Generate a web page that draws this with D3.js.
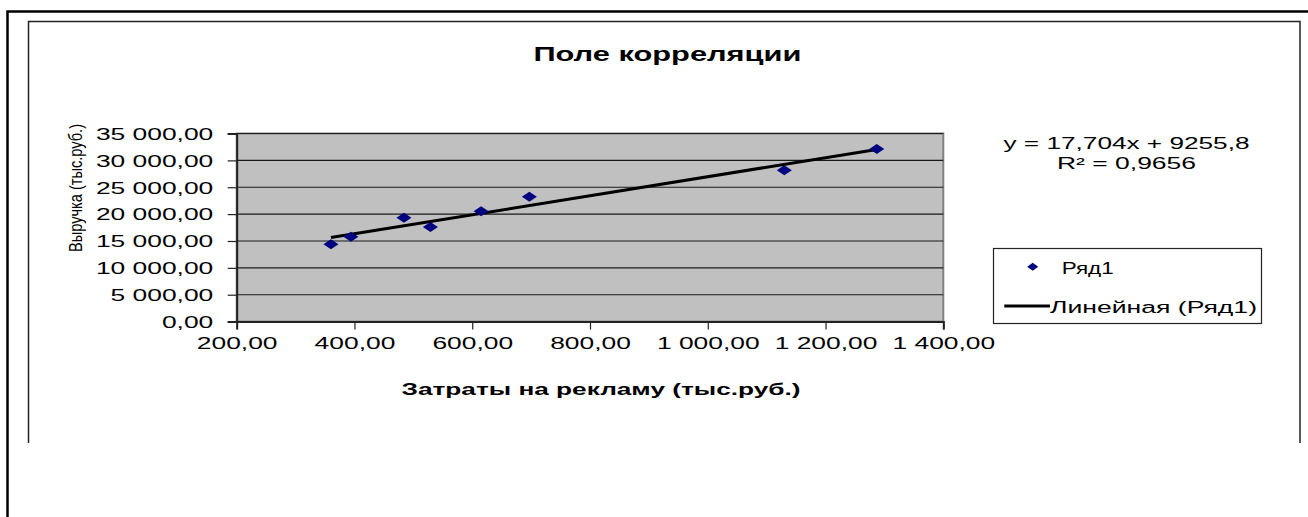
<!DOCTYPE html>
<html><head><meta charset="utf-8">
<script src="https://cdn.jsdelivr.net/npm/d3@7"></script>
<style>html,body{margin:0;padding:0;background:#fff;overflow:hidden}svg{display:block}</style>
</head><body>
<svg id="chart" width="1308" height="517"></svg>
<script>
// ---- data ----
const adSpend = [360, 394, 484, 529, 615, 697, 1130, 1287];
const revenue = [14383, 15797, 19333, 17602, 20524, 23240, 28152, 32116];
const xTicks = [200, 400, 600, 800, 1000, 1200, 1400];
const yTicks = [0, 5000, 10000, 15000, 20000, 25000, 30000, 35000];
const trendSlope = 17.704;
const trendIntercept = 9255.8;
const titleText = "Поле корреляции";
const xTitleText = "Затраты на рекламу (тыс.руб.)";
const yTitleText = "Выручка (тыс.руб.)";
const equationLines = ["y = 17,704x + 9255,8", "R² = 0,9656"];
const seriesName = "Ряд1";
const trendName = "Линейная (Ряд1)";

const FONT = "'Liberation Sans', Arial, sans-serif";
const locale = d3.formatLocale({decimal: ",", thousands: " ", grouping: [3], currency: ["", ""]});
const fmt = locale.format(",.2f");

const svg = d3.select("#chart").style("font-family", FONT);

// frames
svg.append("path").attr("d", "M7.5,517 V11.5 H1308").attr("fill", "none")
  .attr("stroke", "#000").attr("stroke-width", 2.5);
svg.append("path").attr("d", "M28.5,443 V21.5 H1300 V443").attr("fill", "none")
  .attr("stroke", "#222").attr("stroke-width", 1.5);

// scales
const x = d3.scaleLinear().domain([200, 1400]).range([236.7, 943.3]);
const y = d3.scaleLinear().domain([0, 35000]).range([321.6, 133.5]);

// plot area
svg.append("rect")
  .attr("x", x(200)).attr("y", y(35000))
  .attr("width", x(1400) - x(200)).attr("height", y(0) - y(35000))
  .attr("fill", "#C0C0C0").attr("stroke", "#808080").attr("stroke-width", 2);

// gridlines
svg.append("g").selectAll("line").data(yTicks.filter(d => d > 0)).join("line")
  .attr("x1", x(200)).attr("x2", x(1400))
  .attr("y1", d => y(d)).attr("y2", d => y(d))
  .attr("stroke", "#1a1a1a").attr("stroke-width", 1.2);

// y axis
const SX = 1.65;
const gy = svg.append("g").attr("transform", `translate(${x(200)},0)`)
  .call(d3.axisLeft(y).tickValues(yTicks).tickSize(9).tickFormat(fmt));
gy.select(".domain").attr("stroke", "#222").attr("stroke-width", 2);
gy.selectAll(".tick line").attr("stroke", "#222").attr("stroke-width", 1.2);
gy.selectAll(".tick text")
  .attr("x", -23.4 / SX).attr("dy", "0.36em")
  .attr("transform", `scale(${SX},1)`)
  .attr("font-size", 16).attr("font-family", FONT).attr("fill", "#000");

// x axis
const gx = svg.append("g").attr("transform", `translate(0,${y(0)})`)
  .call(d3.axisBottom(x).tickValues(xTicks).tickSize(8).tickFormat(fmt));
gx.select(".domain").attr("stroke", "#222").attr("stroke-width", 2);
gx.selectAll(".tick line").attr("stroke", "#222").attr("stroke-width", 1.2);
gx.selectAll(".tick text")
  .attr("y", 27.7).attr("dy", 0)
  .attr("transform", `scale(${SX},1)`)
  .attr("font-size", 16).attr("font-family", FONT).attr("fill", "#000");

// trend line
const xMin = d3.min(adSpend), xMax = d3.max(adSpend);
const line = d3.line().x(d => x(d)).y(d => y(trendSlope * d + trendIntercept));
svg.append("path").datum([xMin, xMax]).attr("d", line)
  .attr("fill", "none").attr("stroke", "#000").attr("stroke-width", 3);

// points
const diamond = (w, h) => `M0,${-h} L${w},0 L0,${h} L${-w},0 Z`;
svg.append("g").selectAll("path").data(adSpend.map((d, i) => [d, revenue[i]])).join("path")
  .attr("d", diamond(7.5, 5))
  .attr("transform", d => `translate(${x(d[0])},${y(d[1])})`)
  .attr("fill", "#000080");

// texts
function txt(str, xx, yy, size, len, opts = {}) {
  return svg.append("text").text(str)
    .attr("x", xx).attr("y", yy)
    .attr("font-size", size).attr("font-weight", opts.bold ? "bold" : "normal")
    .attr("text-anchor", opts.anchor || "start")
    .attr("textLength", len).attr("lengthAdjust", "spacingAndGlyphs")
    .attr("fill", "#000");
}
txt(titleText, 667.4, 61, 21, 268, {bold: true, anchor: "middle"});
txt(xTitleText, 401.5, 395, 16, 399, {bold: true});

svg.append("text").text(yTitleText)
  .attr("transform", "translate(75.5,188) scale(1.45,1) rotate(-90)")
  .attr("text-anchor", "middle").attr("dy", "0.35em")
  .attr("font-size", 13).attr("textLength", 128).attr("lengthAdjust", "spacingAndGlyphs")
  .attr("fill", "#000");

txt(equationLines[0], 1126.5, 149.3, 16, 246, {anchor: "middle"});
txt(equationLines[1], 1126.5, 169.3, 16, 139, {anchor: "middle"});

// legend
svg.append("rect").attr("x", 993.5).attr("y", 248.5).attr("width", 268).attr("height", 75)
  .attr("fill", "#fff").attr("stroke", "#222").attr("stroke-width", 1.2);
svg.append("path").attr("d", diamond(5.5, 4)).attr("transform", "translate(1032.7,266.7)").attr("fill", "#000080");
txt(seriesName, 1061.7, 274, 16, 52);
svg.append("line").attr("x1", 1004.3).attr("x2", 1050).attr("y1", 306).attr("y2", 306)
  .attr("stroke", "#000").attr("stroke-width", 3);
txt(trendName, 1050, 313.3, 16, 207);
</script>
</body></html>
